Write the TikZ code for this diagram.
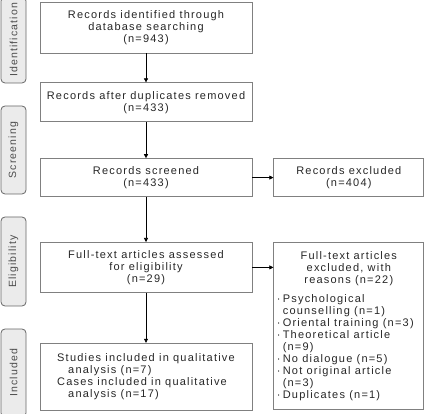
\documentclass[tikz,border=0pt]{standalone}
\usepackage{fontspec}
\setmainfont{Liberation Sans}[LetterSpace=11]
\usetikzlibrary{positioning, arrows.meta}
\newcommand*{\bul}{\makebox[6pt][l]{·}}
\newcommand*{\ind}{\hspace*{6pt}}

\tikzset{
  flowbox/.style={draw=black!50, line width=0.8pt, text=black!85, font=\fontsize{11}{12}\selectfont, align=center, inner sep=3pt},
  phasebox/.style={draw=black!60, fill=black!8, line width=0.8pt, rounded corners=4pt, rotate=90, minimum height=25pt, text=black!70, font=\fontsize{10.5}{12}\selectfont},
  flowarrow/.style={draw=black, line width=0.6pt, -{Triangle[length=4pt, width=4pt]}}
}

\begin{document}
\begin{tikzpicture}[x=1pt, y=1pt]
\useasboundingbox (0,0) rectangle (426,-414);

\node (pID) [phasebox, minimum width=86pt] at (13.5,-40) {Identification};
\node (pSC) [phasebox, minimum width=88pt] at (13.5,-150) {Screening};
\node (pEL) [phasebox, minimum width=89pt] at (13.5,-261.5) {Eligibility};
\node (pIN) [phasebox, minimum width=88pt] at (13.5,-373) {Included};

\node (ident) [flowbox, minimum width=212pt, minimum height=51pt] at (146,-27.5) {Records identified through\\database searching\\(n=943)};
\node (dedup) [flowbox, minimum width=212pt, minimum height=39pt, below=29pt of ident] {Records after duplicates removed\\(n=433)};
\node (screen) [flowbox, minimum width=212pt, minimum height=38pt, below=36pt of dedup] {Records screened\\(n=433)};
\node (full) [flowbox, minimum width=212pt, minimum height=50pt, below=45pt of screen] {Full-text articles assessed\\for eligibility\\(n=29)};
\node (incl) [flowbox, minimum width=212pt, minimum height=67pt, below=50pt of full, align=left] {Studies included in qualitative\\\hspace*{11pt}analysis (n=7)\\Cases included in qualitative\\\hspace*{11pt}analysis (n=17)};

\node (excl) [flowbox, minimum width=150pt, minimum height=38pt, right=21pt of screen] {Records excluded\\(n=404)};
\node (exfull) [flowbox, minimum width=150pt, minimum height=167pt, text width=144pt, align=none, below=45pt of excl] {{\centering Full-text articles\\excluded, with\\reasons (n=22)\par}\vspace{7pt}\raggedright
\bul Psychological\\\ind counselling (n=1)\\\bul Oriental training (n=3)\\\bul Theoretical article\\\ind (n=9)\\\bul No dialogue (n=5)\\\bul Not original article\\\ind (n=3)\\\bul Duplicates (n=1)\par};

\draw [flowarrow] (ident) -- (dedup);
\draw [flowarrow] (dedup) -- (screen);
\draw [flowarrow] (screen) -- (full);
\draw [flowarrow] (full) -- (incl);
\draw [flowarrow] (screen) -- (excl);
\draw [flowarrow] (full.east) -- (full.east -| exfull.west);
\end{tikzpicture}
\end{document}
